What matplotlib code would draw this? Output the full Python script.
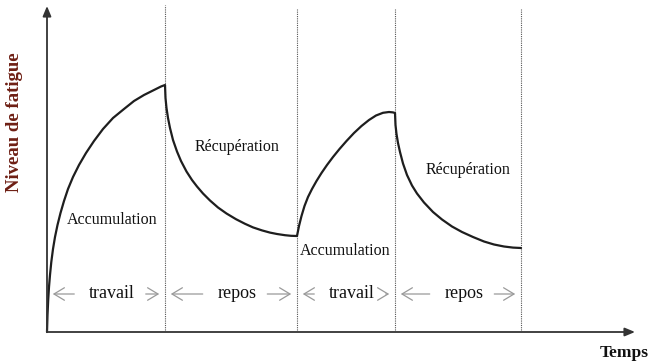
import matplotlib
matplotlib.use('Agg')
import matplotlib.pyplot as plt
from matplotlib.patches import FancyArrowPatch

plt.rcParams['font.family'] = ['Liberation Serif', 'DejaVu Serif']

# fatigue curve (time, fatigue)
acc1_t = [0, 0.5, 1.2, 2, 3, 4.3, 6, 8, 10.5, 13.5, 17, 21, 26, 32, 39, 47,
          56, 66, 77, 87, 97, 107, 114, 118]
acc1_f = [0, 17, 32, 45, 57, 70, 83, 95, 107, 119, 131, 143, 155, 167, 179,
          191, 203, 214, 223, 231, 237, 242, 245.5, 247]
rec1_t = [118, 118.5, 119.5, 121, 123, 126, 130, 134, 139.5, 145, 150, 156,
          163, 171, 179.5, 189, 198, 206, 215, 223, 230, 238, 244, 250]
rec1_f = [247, 234, 224, 214, 204, 192, 180.5, 171, 160.5, 152, 145.5, 138.5,
          131.5, 124.5, 118.5, 112.8, 108.2, 104.6, 101.6, 99.4, 98, 96.8,
          96.2, 96]
acc2_t = [250, 252, 254.5, 257.5, 261, 265, 269.5, 274.5, 280, 286, 292.5,
          299.5, 307, 314.5, 322, 329, 336, 342, 346, 348]
acc2_f = [96, 106, 116, 126, 135, 143, 151, 159, 167, 175, 183, 191, 199,
          206, 212, 216.5, 219.2, 220, 219.6, 219]
rec2_t = [348, 348.5, 349.5, 351, 353, 356, 360, 365, 370, 377, 386, 395,
          405, 415, 426, 437, 447, 457, 466, 474]
rec2_f = [219, 207, 198, 189, 180, 168.5, 157, 146.5, 138.5, 129.5, 120,
          112.5, 105.5, 100, 95, 90.5, 87.5, 85.5, 84.4, 84]

phase_bounds = [0, 118, 250, 348, 474]
phase_names = ['travail', 'repos', 'travail', 'repos']
curve_labels = ['Accumulation', 'Récupération', 'Accumulation', 'Récupération']
curve_label_t = [65, 190, 298, 421]
curve_label_f = [112, 185, 81, 162]

fig = plt.figure(figsize=(6.5, 3.62), dpi=100)
ax = fig.add_axes([0, 0, 1, 1])
ax.set_xlim(-47, 603)
ax.set_ylim(-30, 332)
ax.axis('off')

# curve
t = acc1_t + rec1_t[1:] + acc2_t[1:] + rec2_t[1:]
f = acc1_f + rec1_f[1:] + acc2_f[1:] + rec2_f[1:]
ax.plot(t, f, color='#1e1e1e', lw=1.6, solid_joinstyle='round',
        solid_capstyle='round', zorder=3)

# axes with arrows
ax.annotate('', xy=(0, 326), xytext=(0, 0),
            arrowprops=dict(arrowstyle='-|>,head_length=0.6,head_width=0.25',
                            color='#333333', lw=1.3, shrinkA=0, shrinkB=0))
ax.annotate('', xy=(588, 0), xytext=(0, 0),
            arrowprops=dict(arrowstyle='-|>,head_length=0.6,head_width=0.25',
                            color='#333333', lw=1.3, shrinkA=0, shrinkB=0))

# phase separators
for i, b in enumerate(phase_bounds[1:]):
    top = 327 if i == 0 else 323
    ax.plot([b, b], [2, top], color='#555555', lw=0.8, ls=(0, (1, 1)), zorder=1)

# curve labels
for lab, x, y in zip(curve_labels, curve_label_t, curve_label_f):
    ax.text(x, y, lab, ha='center', va='center', fontsize=11.5, color='#111111')

# phase labels with arrows
phase_y = 38
texts = []
for i, name in enumerate(phase_names):
    mid = (phase_bounds[i] + phase_bounds[i + 1]) / 2 + 6
    texts.append(ax.text(mid, phase_y, name, ha='center', va='center',
                         fontsize=13, color='#111111'))

fig.canvas.draw()
inv = ax.transData.inverted()
r = fig.canvas.get_renderer()
for i, txt in enumerate(texts):
    bb = txt.get_window_extent(r)
    x0 = inv.transform((bb.x0, 0))[0]
    x1 = inv.transform((bb.x1, 0))[0]
    left, right = phase_bounds[i], phase_bounds[i + 1]
    style = '->,head_length=0.75,head_width=0.45'
    ax.add_patch(FancyArrowPatch((x0 - 12, phase_y), (left + 3, phase_y),
                                 arrowstyle=style, mutation_scale=10,
                                 color='#9a9a9a', lw=0.9))
    ax.add_patch(FancyArrowPatch((x1 + 8, phase_y), (right - 3, phase_y),
                                 arrowstyle=style, mutation_scale=10,
                                 color='#9a9a9a', lw=0.9))

ax.text(-32, 210, 'Niveau de fatigue', rotation=90, ha='center', va='center',
        fontsize=13.5, fontweight='bold', color='#6e1f14')
ax.text(577, -21, 'Temps', ha='center', va='center',
        fontsize=12.5, fontweight='bold', color='#111111')

fig.savefig('out.png', dpi=100)
